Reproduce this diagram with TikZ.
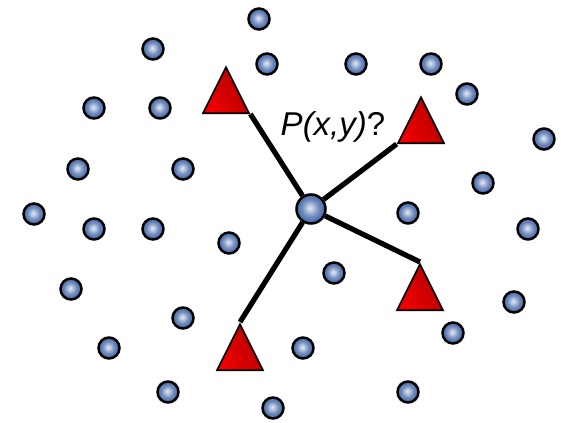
\documentclass[tikz,border=0pt]{standalone}
\usepackage{xcolor}
\definecolor{dotblue}{HTML}{4468A8}
\definecolor{trired}{HTML}{F00000}
\definecolor{tridark}{HTML}{B00000}
\usepackage{fontspec}
\newfontfamily\labelfont{Liberation Sans}
\usepackage{tikz}
\usetikzlibrary{shapes.geometric,backgrounds}
\pgfdeclareradialshading{dotball}{\pgfpoint{-2bp}{2bp}}{%
  color(0bp)=(white!85!dotblue); color(5bp)=(dotblue!35!white);
  color(14bp)=(dotblue!75!white); color(24bp)=(dotblue);
  color(50bp)=(dotblue!80!black)}

\begin{document}
\begin{tikzpicture}[x=1pt, y=-1pt,
    sample/.style={circle, draw=black, line width=2.5pt, shading=dotball,
                   minimum size=21pt, inner sep=0pt},
    query/.style={sample, minimum size=29pt},
    tri/.style={isosceles triangle, isosceles triangle stretches,
                shape border rotate=90, draw=black, line width=1.7pt,
                left color=trired, right color=tridark, shading angle=120,
                minimum width=46pt, minimum height=46pt, inner sep=0pt},
    link/.style={line width=5.2pt, draw=black}]
  \useasboundingbox (0,0) rectangle (563,423);
  % known samples
  \foreach \x/\y [count=\i] in {259/19, 153/49, 267/64, 356/64, 431/64,
      467/94, 94/108, 160/108, 544/139, 78/169, 183/169, 483/183,
      34/214, 94/229, 153/229, 229/243, 408/213, 528/229, 334/273,
      71/289, 514/302, 183/318, 453/333, 109/348, 303/348, 168/392,
      273/408, 408/392}
    \node[sample] (s\i) at (\x,\y) {};
  \node[query] (q) at (311,209) {};
  % nearest neighbours
  \node[tri, anchor=apex] (t1) at (226,65) {};
  \node[tri, anchor=apex] (t2) at (421,95) {};
  \node[tri, anchor=apex] (t3) at (420,262) {};
  \node[tri, anchor=apex] (t4) at (240,322) {};
  \begin{scope}[on background layer]
    \draw[link] (q) -- (t1.right corner);
    \draw[link] (q) -- (t2.left corner);
    \draw[link] (q) -- (t3.apex);
    \draw[link] (q) -- (t4.apex);
  \end{scope}
  \node[font=\labelfont\fontsize{33}{36}\selectfont] (lbl) at (333,127)
    {\itshape P(x,y)\upshape ?};
\end{tikzpicture}
\end{document}
